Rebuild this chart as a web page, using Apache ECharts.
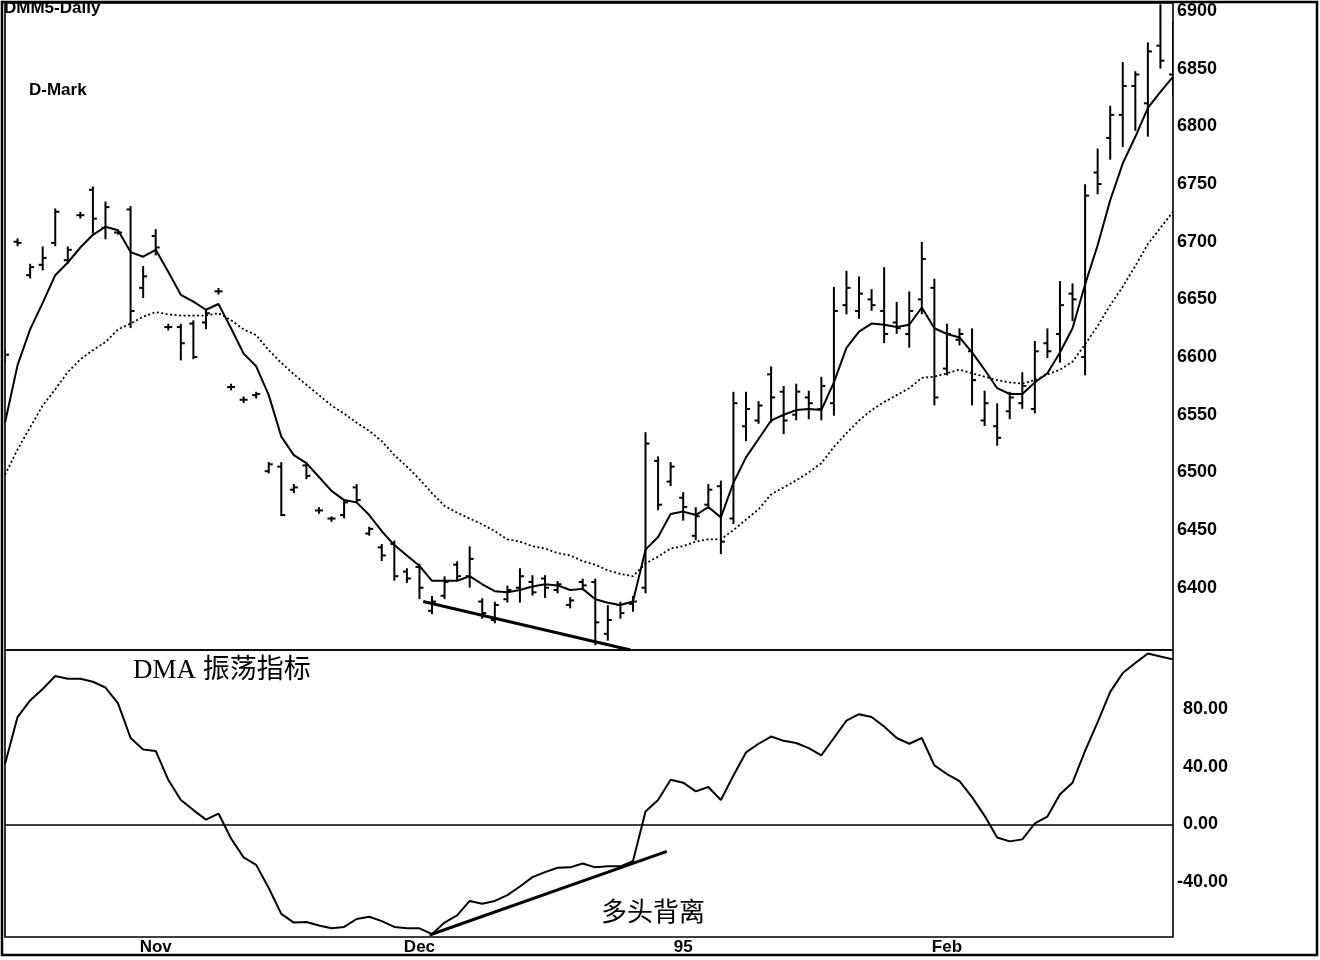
<!DOCTYPE html>
<html>
<head>
<meta charset="utf-8">
<script src="https://cdn.jsdelivr.net/npm/echarts@6/dist/echarts.min.js"></script>
<style>html,body{margin:0;padding:0;background:#fff;}#c{width:1320px;height:960px;}</style>
</head>
<body>
<div id="c"></div>
<script>
// ---- data ----
const tickIndex = [12, 33, 54, 75];
const tickLabels = ['Nov', 'Dec', '95', 'Feb'];
const priceTicks = [6400, 6450, 6500, 6550, 6600, 6650, 6700, 6750, 6800, 6850, 6900];
const dmaTicks = [-40, 0, 40, 80];

const open = [6600,6700,6671,6680,6699,6684,6723,6745,6712,6708, 6728,6660,6705,6626,6626,6629,6630,6657,6574,6563, 6567,6501,6505,6485,6506,6467,6460,6463,6487,6447, 6435,6438,6414,6418,6380,6393,6420,6410,6388,6372, 6390,6400,6405,6408,6398,6385,6405,6405,6360,6385, 6386,6400,6510,6492,6478,6445,6472,6488,6460,6540, 6545,6585,6570,6550,6565,6555,6560,6645,6640,6650, 6640,6630,6620,6650,6660,6590,6615,6605,6545,6540, 6553,6560,6555,6612,6620,6655,6600,6760,6790,6810, 6835,6820,6870,6845];
const high = [6606,6702,6680,6695,6728,6695,6725,6747,6734,6709, 6730,6678,6710,6628,6628,6631,6640,6659,6576,6565, 6569,6508,6508,6489,6508,6469,6461,6476,6489,6452, 6437,6440,6416,6420,6392,6409,6422,6435,6390,6387, 6401,6416,6410,6410,6405,6391,6407,6407,6384,6387, 6392,6534,6513,6508,6482,6469,6489,6492,6569,6569, 6561,6591,6574,6576,6570,6582,6660,6674,6669,6658, 6677,6647,6656,6699,6667,6628,6624,6624,6570,6559, 6569,6586,6613,6624,6665,6663,6749,6780,6817,6855, 6847,6872,6905,6890];
const low = [6596,6697,6669,6676,6697,6682,6721,6708,6703,6707, 6626,6652,6689,6624,6598,6599,6625,6655,6572,6561, 6565,6500,6463,6483,6495,6465,6458,6461,6474,6446, 6424,6407,6405,6391,6378,6391,6407,6401,6374,6370, 6388,6388,6394,6392,6396,6383,6400,6351,6355,6374, 6380,6396,6468,6489,6459,6442,6469,6430,6456,6528, 6543,6544,6534,6546,6547,6546,6550,6638,6634,6641, 6613,6621,6609,6638,6559,6585,6611,6559,6541,6524, 6547,6556,6552,6600,6596,6632,6585,6742,6772,6783, 6797,6792,6851,6827];
const close = [6602,6699,6678,6686,6726,6693,6723,6720,6730,6708, 6640,6670,6695,6626,6612,6600,6638,6657,6574,6563, 6568,6507,6463,6487,6497,6467,6460,6474,6476,6451, 6428,6410,6408,6400,6388,6405,6410,6425,6378,6385, 6398,6410,6396,6400,6403,6389,6402,6370,6372,6378, 6388,6525,6472,6505,6470,6462,6485,6440,6560,6555, 6558,6565,6545,6570,6560,6575,6640,6660,6655,6645, 6620,6625,6640,6685,6565,6620,6620,6580,6560,6530, 6565,6575,6605,6605,6645,6650,6740,6750,6810,6835, 6845,6865,6857,6870];
const maFast = [6543,6593,6624,6647,6671,6682,6695,6706,6713,6710, 6691,6687,6693,6674,6654,6648,6641,6646,6625,6603, 6592,6567,6531,6515,6508,6496,6484,6476,6474,6463, 6449,6437,6428,6419,6406,6406,6406,6410,6403,6397, 6396,6398,6401,6403,6402,6398,6399,6390,6387,6385, 6388,6433,6444,6464,6466,6463,6470,6461,6491,6513, 6529,6545,6550,6554,6555,6554,6578,6608,6622,6629, 6628,6626,6628,6643,6625,6620,6617,6604,6589,6573, 6568,6568,6578,6586,6604,6625,6663,6697,6736,6768, 6791,6816,6830,6843];
const maSlow = [6498,6520,6539,6558,6572,6587,6598,6606,6613,6624, 6629,6635,6639,6637,6636,6636,6636,6638,6632,6624, 6619,6606,6595,6585,6576,6567,6558,6551,6543,6536, 6527,6515,6505,6494,6482,6471,6465,6460,6455,6449, 6442,6440,6436,6434,6430,6428,6423,6420,6415,6412, 6410,6421,6427,6434,6436,6440,6442,6442,6450,6459, 6468,6481,6487,6493,6500,6508,6522,6534,6545,6554, 6561,6567,6573,6582,6583,6586,6589,6586,6583,6580, 6578,6577,6580,6585,6589,6596,6611,6627,6645,6661, 6679,6698,6712,6726];
const dma = [42,74.5,86,94,103,101,101,99,95,84, 60,52,51,31,17,10,3.4,7.6,-9.7,-22.8, -28,-44,-62,-68,-67.6,-70,-72,-71,-65.5,-64, -67,-71,-72,-72,-76,-68,-63,-53,-55,-53, -49,-43,-36.5,-33,-30,-29.7,-27,-29.7,-29,-29, -25.5,9,17,31,29,23,26,17,34,50, 56,61,58,56.5,53,48,60,72,76.5,74.5, 68,60,56,60,41,35,30,19,6,-9, -11.7,-10.3,0.7,5.5,21,29,51,71,92,105, 112,118.6,116.5,114.5];
const priceTrend = [[33.3, 6388], [49.8, 6346]];
const dmaTrend = [[33.8, -76.6], [52.7, -18.6]];

// ---- chart ----
const chart = echarts.init(document.getElementById('c'), null, {renderer: 'canvas'});
const idx = open.map((_, i) => i);
const ohlc = idx.map(i => [i, open[i], high[i], low[i], close[i]]);
const pair = arr => idx.map(i => [i, arr[i]]);
const lastIdx = open.length - 1;
const SANS = "'Liberation Sans', Arial, Helvetica, sans-serif";

const option = {
  animation: false,
  backgroundColor: '#fff',
  grid: [
    {left: 5, top: 3, width: 1168, height: 647, show: true, borderColor: '#000', borderWidth: 1.6, backgroundColor: 'transparent'},
    {left: 5, top: 650, width: 1168, height: 287, show: true, borderColor: '#000', borderWidth: 1.6, backgroundColor: 'transparent'}
  ],
  xAxis: [
    {type: 'value', gridIndex: 0, min: 0, max: lastIdx, axisLine: {show: false}, axisTick: {show: false}, axisLabel: {show: false}, splitLine: {show: false}},
    {type: 'value', gridIndex: 1, min: 0, max: lastIdx, axisLine: {show: false}, axisTick: {show: false}, splitLine: {show: false},
      axisLabel: {customValues: tickIndex, formatter: v => tickLabels[tickIndex.indexOf(v)] || '', color: '#000', fontFamily: SANS, fontWeight: 'bold', fontSize: 17, margin: 2}}
  ],
  yAxis: [
    {type: 'value', gridIndex: 0, position: 'right', min: 6346, max: 6907, axisLine: {show: false}, axisTick: {show: false}, splitLine: {show: false},
      axisLabel: {customValues: priceTicks, formatter: v => String(v), color: '#000', fontFamily: SANS, fontWeight: 'bold', fontSize: 18, margin: 4, showMinLabel: true, showMaxLabel: true}},
    {type: 'value', gridIndex: 1, position: 'right', min: -78, max: 121, axisLine: {show: false}, axisTick: {show: false}, splitLine: {show: false},
      axisLabel: {customValues: dmaTicks, margin: 4,
        formatter: v => (v < 0 ? '{n|' : '{p|') + v.toFixed(2) + '}',
        rich: {
          n: {color: '#000', fontFamily: SANS, fontWeight: 'bold', fontSize: 18},
          p: {color: '#000', fontFamily: SANS, fontWeight: 'bold', fontSize: 18, padding: [0, 0, 0, 6]}
        }}}
  ],
  series: [
    {
      type: 'custom', xAxisIndex: 0, yAxisIndex: 0, data: ohlc, encode: {x: 0, y: [1, 2, 3, 4]}, silent: true, clip: true,
      renderItem: function (params, api) {
        const x = api.value(0);
        const pO = api.coord([x, api.value(1)]);
        const pH = api.coord([x, api.value(2)]);
        const pL = api.coord([x, api.value(3)]);
        const pC = api.coord([x, api.value(4)]);
        const st = {stroke: '#000', lineWidth: 2};
        return {type: 'group', children: [
          {type: 'line', shape: {x1: pH[0], y1: pH[1] - 1, x2: pL[0], y2: pL[1] + 1}, style: st},
          {type: 'line', shape: {x1: pO[0] - 4, y1: pO[1], x2: pO[0], y2: pO[1]}, style: st},
          {type: 'line', shape: {x1: pC[0], y1: pC[1], x2: pC[0] + 4, y2: pC[1]}, style: st}
        ]};
      }
    },
    {type: 'line', xAxisIndex: 0, yAxisIndex: 0, data: pair(maSlow), showSymbol: false, silent: true,
      lineStyle: {color: '#000', width: 1.8, type: [2, 2.5]}},
    {type: 'line', xAxisIndex: 0, yAxisIndex: 0, data: pair(maFast), showSymbol: false, silent: true,
      lineStyle: {color: '#000', width: 2}},
    {type: 'line', xAxisIndex: 0, yAxisIndex: 0, data: priceTrend, showSymbol: false, silent: true, clip: true,
      lineStyle: {color: '#000', width: 3}},
    {type: 'line', xAxisIndex: 1, yAxisIndex: 1, data: pair(dma), showSymbol: false, silent: true,
      lineStyle: {color: '#000', width: 2},
      markLine: {silent: true, symbol: 'none', label: {show: false}, lineStyle: {color: '#000', width: 1.6, type: 'solid'}, data: [{yAxis: 0}]}},
    {type: 'line', xAxisIndex: 1, yAxisIndex: 1, data: dmaTrend, showSymbol: false, silent: true,
      lineStyle: {color: '#000', width: 3}}
  ],
  graphic: [
    {type: 'rect', shape: {x: 2, y: 2, width: 1315, height: 953}, style: {fill: 'none', stroke: '#000', lineWidth: 2.5}, silent: true, z: 100},
    {type: 'text', left: 4, top: 0, style: {text: 'DMM5-Daily', font: "bold 17px 'Liberation Sans', Arial, sans-serif", fill: '#000'}, z: 100},
    {type: 'text', left: 29, top: 82, style: {text: 'D-Mark', font: "bold 17px 'Liberation Sans', Arial, sans-serif", fill: '#000'}, z: 100},
    {type: 'text', left: 133, top: 657, style: {text: 'DMA 振荡指标', font: "27px 'Liberation Serif', 'Noto Sans CJK SC', serif", fill: '#000'}, z: 100},
    {type: 'text', left: 601, top: 898, style: {text: '多头背离', font: "26px 'Noto Sans CJK SC', sans-serif", fill: '#000'}, z: 100}
  ]
};
chart.setOption(option);
</script>
</body>
</html>
